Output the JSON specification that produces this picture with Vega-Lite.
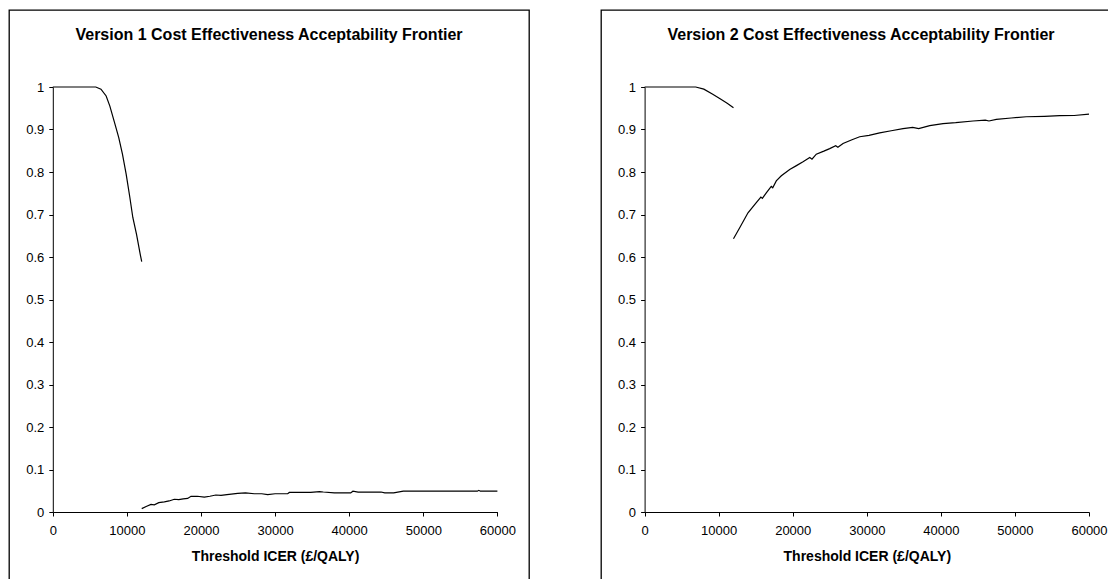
{
  "$schema": "https://vega.github.io/schema/vega-lite/v6.json",
  "padding": {"left": 8, "top": 9, "right": 0, "bottom": 0},
  "spacing": 70,
  "background": "#ffffff",
  "config": {
    "font": "Liberation Sans",
    "view": {"stroke": "#000000", "strokeWidth": 1.3},
    "axis": {
      "domainColor": "#000000", "tickColor": "#000000", "labelColor": "#000000", "titleColor": "#000000",
      "labelFont": "Liberation Sans", "titleFont": "Liberation Sans",
      "labelFontSize": 13, "titleFontSize": 14, "titleFontWeight": "bold",
      "grid": false, "tickSize": 4, "domainWidth": 1, "tickWidth": 1
    },
    "title": {"font": "Liberation Sans", "fontSize": 16, "fontWeight": "bold", "color": "#000000"}
  },
  "datasets": {
    "v1": [
      {"seg": "a", "threshold": 0, "prob": 1},
      {"seg": "a", "threshold": 5800, "prob": 1},
      {"seg": "a", "threshold": 6500, "prob": 0.995},
      {"seg": "a", "threshold": 7200, "prob": 0.979},
      {"seg": "a", "threshold": 7700, "prob": 0.955},
      {"seg": "a", "threshold": 8400, "prob": 0.912},
      {"seg": "a", "threshold": 8900, "prob": 0.881},
      {"seg": "a", "threshold": 9400, "prob": 0.842},
      {"seg": "a", "threshold": 9900, "prob": 0.795},
      {"seg": "a", "threshold": 10400, "prob": 0.74},
      {"seg": "a", "threshold": 10800, "prob": 0.693},
      {"seg": "a", "threshold": 11300, "prob": 0.653},
      {"seg": "a", "threshold": 11800, "prob": 0.606},
      {"seg": "a", "threshold": 12000, "prob": 0.589},
      {"seg": "b", "threshold": 12000, "prob": 0.008},
      {"seg": "b", "threshold": 12600, "prob": 0.013},
      {"seg": "b", "threshold": 13250, "prob": 0.018},
      {"seg": "b", "threshold": 13700, "prob": 0.017},
      {"seg": "b", "threshold": 14300, "prob": 0.022},
      {"seg": "b", "threshold": 15050, "prob": 0.024},
      {"seg": "b", "threshold": 15700, "prob": 0.026},
      {"seg": "b", "threshold": 16400, "prob": 0.03},
      {"seg": "b", "threshold": 17000, "prob": 0.029},
      {"seg": "b", "threshold": 17600, "prob": 0.031},
      {"seg": "b", "threshold": 18200, "prob": 0.032},
      {"seg": "b", "threshold": 18650, "prob": 0.037},
      {"seg": "b", "threshold": 19500, "prob": 0.037},
      {"seg": "b", "threshold": 20450, "prob": 0.035},
      {"seg": "b", "threshold": 21200, "prob": 0.037},
      {"seg": "b", "threshold": 22000, "prob": 0.04},
      {"seg": "b", "threshold": 22700, "prob": 0.039},
      {"seg": "b", "threshold": 23500, "prob": 0.041},
      {"seg": "b", "threshold": 24950, "prob": 0.044},
      {"seg": "b", "threshold": 26000, "prob": 0.045},
      {"seg": "b", "threshold": 27200, "prob": 0.043},
      {"seg": "b", "threshold": 28200, "prob": 0.043},
      {"seg": "b", "threshold": 29000, "prob": 0.041},
      {"seg": "b", "threshold": 30000, "prob": 0.043},
      {"seg": "b", "threshold": 31700, "prob": 0.043},
      {"seg": "b", "threshold": 31920, "prob": 0.046},
      {"seg": "b", "threshold": 34800, "prob": 0.046},
      {"seg": "b", "threshold": 36000, "prob": 0.048},
      {"seg": "b", "threshold": 36500, "prob": 0.047},
      {"seg": "b", "threshold": 38000, "prob": 0.045},
      {"seg": "b", "threshold": 40200, "prob": 0.045},
      {"seg": "b", "threshold": 40500, "prob": 0.049},
      {"seg": "b", "threshold": 41200, "prob": 0.047},
      {"seg": "b", "threshold": 44300, "prob": 0.047},
      {"seg": "b", "threshold": 44800, "prob": 0.045},
      {"seg": "b", "threshold": 46000, "prob": 0.045},
      {"seg": "b", "threshold": 47300, "prob": 0.049},
      {"seg": "b", "threshold": 52000, "prob": 0.049},
      {"seg": "b", "threshold": 57300, "prob": 0.049},
      {"seg": "b", "threshold": 57500, "prob": 0.051},
      {"seg": "b", "threshold": 57700, "prob": 0.049},
      {"seg": "b", "threshold": 60000, "prob": 0.049}
    ],
    "v2": [
      {"seg": "a", "threshold": 0, "prob": 1},
      {"seg": "a", "threshold": 6900, "prob": 1},
      {"seg": "a", "threshold": 8000, "prob": 0.995},
      {"seg": "a", "threshold": 9200, "prob": 0.983},
      {"seg": "a", "threshold": 10300, "prob": 0.971},
      {"seg": "a", "threshold": 11200, "prob": 0.961},
      {"seg": "a", "threshold": 12000, "prob": 0.951},
      {"seg": "b", "threshold": 12000, "prob": 0.643},
      {"seg": "b", "threshold": 12840, "prob": 0.669},
      {"seg": "b", "threshold": 13960, "prob": 0.704},
      {"seg": "b", "threshold": 15080, "prob": 0.728},
      {"seg": "b", "threshold": 15700, "prob": 0.741},
      {"seg": "b", "threshold": 15900, "prob": 0.738},
      {"seg": "b", "threshold": 16430, "prob": 0.751},
      {"seg": "b", "threshold": 17100, "prob": 0.766},
      {"seg": "b", "threshold": 17300, "prob": 0.763},
      {"seg": "b", "threshold": 17780, "prob": 0.779},
      {"seg": "b", "threshold": 18460, "prob": 0.791},
      {"seg": "b", "threshold": 19590, "prob": 0.806},
      {"seg": "b", "threshold": 20500, "prob": 0.815},
      {"seg": "b", "threshold": 21390, "prob": 0.824},
      {"seg": "b", "threshold": 22300, "prob": 0.834},
      {"seg": "b", "threshold": 22600, "prob": 0.83},
      {"seg": "b", "threshold": 23180, "prob": 0.842},
      {"seg": "b", "threshold": 24200, "prob": 0.849},
      {"seg": "b", "threshold": 24990, "prob": 0.855},
      {"seg": "b", "threshold": 25800, "prob": 0.862},
      {"seg": "b", "threshold": 26100, "prob": 0.858},
      {"seg": "b", "threshold": 26790, "prob": 0.867},
      {"seg": "b", "threshold": 28000, "prob": 0.876},
      {"seg": "b", "threshold": 29040, "prob": 0.883},
      {"seg": "b", "threshold": 30300, "prob": 0.886},
      {"seg": "b", "threshold": 31740, "prob": 0.892},
      {"seg": "b", "threshold": 33300, "prob": 0.897},
      {"seg": "b", "threshold": 34890, "prob": 0.902},
      {"seg": "b", "threshold": 36200, "prob": 0.905},
      {"seg": "b", "threshold": 37000, "prob": 0.902},
      {"seg": "b", "threshold": 38500, "prob": 0.909},
      {"seg": "b", "threshold": 40290, "prob": 0.914},
      {"seg": "b", "threshold": 42000, "prob": 0.916},
      {"seg": "b", "threshold": 44340, "prob": 0.92},
      {"seg": "b", "threshold": 46000, "prob": 0.922},
      {"seg": "b", "threshold": 46500, "prob": 0.92},
      {"seg": "b", "threshold": 47480, "prob": 0.924},
      {"seg": "b", "threshold": 49500, "prob": 0.927},
      {"seg": "b", "threshold": 51530, "prob": 0.93},
      {"seg": "b", "threshold": 54000, "prob": 0.931},
      {"seg": "b", "threshold": 56040, "prob": 0.9325},
      {"seg": "b", "threshold": 58000, "prob": 0.933},
      {"seg": "b", "threshold": 60000, "prob": 0.936}
    ]
  },
  "hconcat": [
    {
      "width": 520,
      "height": 570,
      "title": {"text": "Version 1 Cost Effectiveness Acceptability Frontier", "offset": -30, "dy": 16, "baseline": "alphabetic", "anchor": "middle"},
      "data": {"name": "v1"},
      "mark": {"type": "line", "color": "#000000", "strokeWidth": 1.2},
      "encoding": {
        "x": {
          "field": "threshold", "type": "quantitative",
          "scale": {"domain": [0, 60000], "range": [43.8, 488.4], "nice": false, "zero": false},
          "axis": {"title": "Threshold ICER (£/QALY)", "values": [0, 10000, 20000, 30000, 40000, 50000, 60000], "format": "d", "offset": -68, "labelPadding": 8, "titlePadding": 12, "labelFlush": false, "labelOverlap": false}
        },
        "y": {
          "field": "prob", "type": "quantitative",
          "scale": {"domain": [0, 1], "range": [502, 77], "nice": false},
          "axis": {"title": null, "values": [0, 0.1, 0.2, 0.3, 0.4, 0.5, 0.6, 0.7, 0.8, 0.9, 1], "format": "~g", "offset": -43.8, "labelPadding": 5, "labelOverlap": false}
        },
        "detail": {"field": "seg"}
      }
    },
    {
      "width": 510,
      "height": 570,
      "title": {"text": "Version 2 Cost Effectiveness Acceptability Frontier", "offset": -30, "dy": 16, "baseline": "alphabetic", "anchor": "middle", "dx": 5},
      "data": {"name": "v2"},
      "mark": {"type": "line", "color": "#000000", "strokeWidth": 1.2},
      "encoding": {
        "x": {
          "field": "threshold", "type": "quantitative",
          "scale": {"domain": [0, 60000], "range": [43.6, 488], "nice": false, "zero": false},
          "axis": {"title": "Threshold ICER (£/QALY)", "values": [0, 10000, 20000, 30000, 40000, 50000, 60000], "format": "d", "offset": -68, "labelPadding": 8, "titlePadding": 12, "labelFlush": false, "labelOverlap": false}
        },
        "y": {
          "field": "prob", "type": "quantitative",
          "scale": {"domain": [0, 1], "range": [502, 77], "nice": false},
          "axis": {"title": null, "values": [0, 0.1, 0.2, 0.3, 0.4, 0.5, 0.6, 0.7, 0.8, 0.9, 1], "format": "~g", "offset": -43.6, "labelPadding": 5, "labelOverlap": false}
        },
        "detail": {"field": "seg"}
      }
    }
  ]
}
